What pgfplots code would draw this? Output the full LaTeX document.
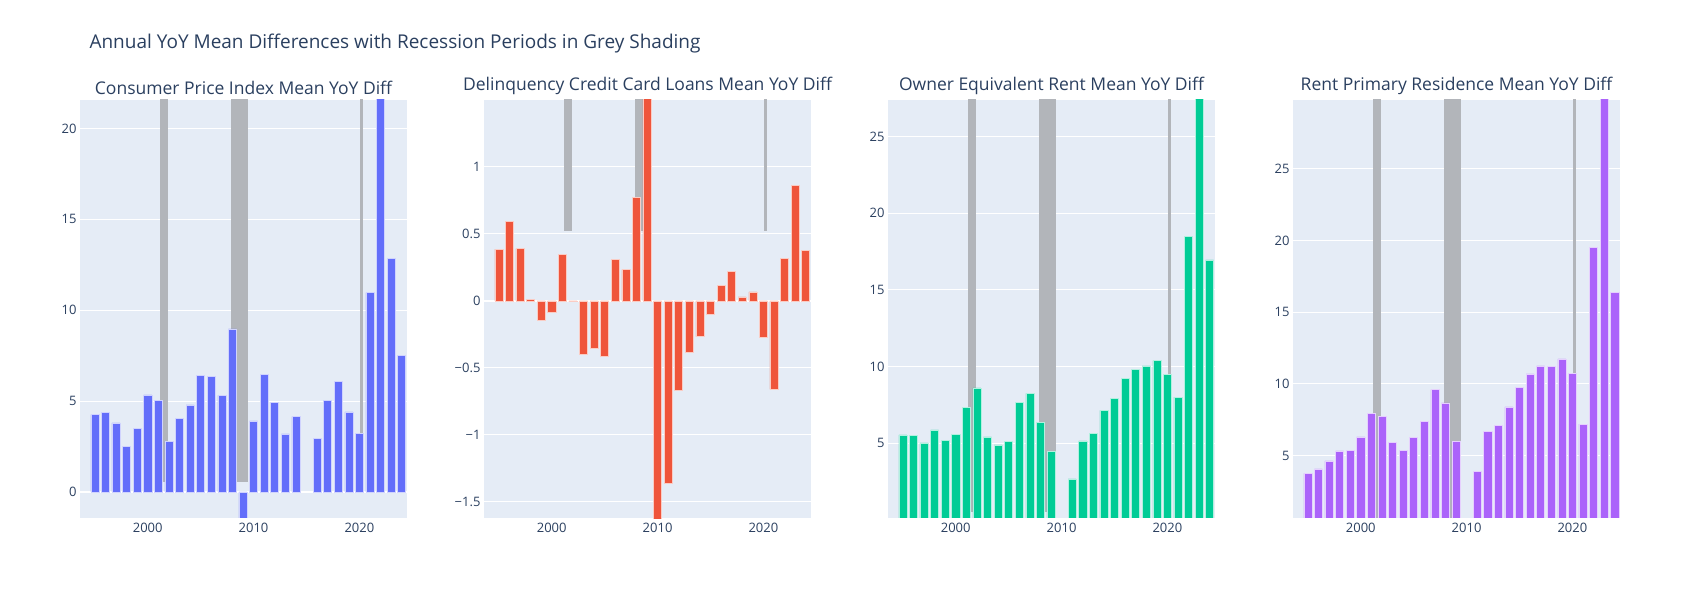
\documentclass[border=0pt]{standalone}
\usepackage{pgfplots}
\pgfplotsset{compat=1.18}
\usepackage{pgfplotstable}
\usepackage{fontspec}
\setmainfont{Open Sans}
\definecolor{txt}{HTML}{2A3F5F}
\definecolor{bg}{HTML}{E5ECF6}
\definecolor{shade}{HTML}{B2B5BA}
\definecolor{cA}{HTML}{636EFA}
\definecolor{cB}{HTML}{EF553B}
\definecolor{cC}{HTML}{00CC96}
\definecolor{cD}{HTML}{AB63FA}
\pgfplotstableread{
year cpi del oer rent
1995 4.26 0.386 5.54 3.77
1996 4.39 0.595 5.50 4.07
1997 3.80 0.39 5.02 4.63
1998 2.51 0.01 5.87 5.33
1999 3.50 -0.147 5.20 5.37
2000 5.34 -0.087 5.57 6.30
2001 5.03 0.348 7.33 7.95
2002 2.79 -0.005 8.61 7.74
2003 4.04 -0.395 5.41 5.90
2004 4.79 -0.356 4.89 5.37
2005 6.40 -0.415 5.09 6.28
2006 6.35 0.308 7.65 7.40
2007 5.32 0.234 8.24 9.60
2008 8.97 0.774 6.33 8.67
2009 -1.60 1.60 4.46 6.00
2010 3.91 -1.70 nan nan
2011 6.46 -1.363 2.67 3.88
2012 4.94 -0.667 5.15 6.70
2013 3.19 -0.38 5.65 7.12
2014 4.15 -0.266 7.13 8.40
2015 nan -0.10 7.91 9.75
2016 2.94 0.114 9.24 10.70
2017 5.03 0.219 9.80 11.25
2018 6.07 0.03 10.04 11.20
2019 4.40 0.067 10.39 11.75
2020 3.23 -0.27 9.48 10.75
2021 10.97 -0.66 8.00 7.20
2022 23.0 0.32 18.48 19.50
2023 12.86 0.86 28.5 31.0
2024 7.50 0.38 16.96 16.40
}\data
\pgfplotsset{
  panel/.style={
    scale only axis, width=327pt, height=418pt,
    anchor=north west,
    axis background/.style={fill=bg},
    axis line style={draw=none},
    major tick style={draw=none},
    xmin=1993.6, xmax=2024.5,
    xtick={2000,2010,2020},
    ymajorgrids, grid style={white, line width=1pt},
    ticklabel style={font=\fontsize{13}{15}\selectfont, text=txt},
    /pgf/number format/assume math mode=true,
    /pgf/number format/1000 sep={},
    title style={font=\fontsize{17.5}{20}\selectfont, text=txt, yshift=-4pt},
    xticklabel style={yshift=-2pt},
    clip=true,
  },
  bars/.style={ybar, bar width=0.76, draw=white!70!#1, line width=0.5pt, fill=#1, forget plot},
  sh/.style={fill=shade, draw=none, forget plot},
}
\begin{document}
\begin{tikzpicture}
\path[use as bounding box] (0pt,0pt) rectangle (1700pt,600pt);
\node[anchor=west, text=txt, font=\fontsize{19}{22}\selectfont] at (86pt,556pt) {Annual YoY Mean Differences with Recession Periods in Grey Shading};
% panel 1
\begin{axis}[panel, at={(80pt,500pt)}, ymin=-1.43, ymax=21.56, ytick={0,5,10,15,20},
  extra y ticks={0}, extra y tick labels={}, extra y tick style={grid style={white,line width=2pt}},
  title={Consumer Price Index Mean YoY Diff}]
\addplot[sh] coordinates {(2001.18,0.55) (2001.91,0.55) (2001.91,30) (2001.18,30)} -- cycle;
\addplot[sh] coordinates {(2007.9,0.55) (2009.48,0.55) (2009.48,30) (2007.9,30)} -- cycle;
\addplot[sh] coordinates {(2020.08,0.55) (2020.33,0.55) (2020.33,30) (2020.08,30)} -- cycle;
\addplot[bars=cA] table[x=year,y=cpi] {\data};
\end{axis}
% panel 2
\begin{axis}[panel, at={(484pt,500pt)}, ymin=-1.62, ymax=1.5, ytick={-1.5,-1,-0.5,0,0.5,1},
  yticklabels={−1.5,−1,−0.5,0,0.5,1},
  extra y ticks={0}, extra y tick labels={}, extra y tick style={grid style={white,line width=2pt}},
  title={Delinquency Credit Card Loans Mean YoY Diff}]
\addplot[sh] coordinates {(2001.18,0.525) (2001.91,0.525) (2001.91,3) (2001.18,3)} -- cycle;
\addplot[sh] coordinates {(2007.9,0.525) (2009.48,0.525) (2009.48,3) (2007.9,3)} -- cycle;
\addplot[sh] coordinates {(2020.08,0.525) (2020.33,0.525) (2020.33,3) (2020.08,3)} -- cycle;
\addplot[bars=cB] table[x=year,y=del] {\data};
\end{axis}
% panel 3
\begin{axis}[panel, at={(888pt,500pt)}, ymin=0.11, ymax=27.4, ytick={5,10,15,20,25},
  title={Owner Equivalent Rent Mean YoY Diff}]
\addplot[sh] coordinates {(2001.18,0.52) (2001.91,0.52) (2001.91,40) (2001.18,40)} -- cycle;
\addplot[sh] coordinates {(2007.9,0.52) (2009.48,0.52) (2009.48,40) (2007.9,40)} -- cycle;
\addplot[sh] coordinates {(2020.08,0.52) (2020.33,0.52) (2020.33,40) (2020.08,40)} -- cycle;
\addplot[bars=cC] table[x=year,y=oer] {\data};
\end{axis}
% panel 4
\begin{axis}[panel, at={(1293pt,500pt)}, ymin=0.65, ymax=29.8, ytick={5,10,15,20,25},
  title={Rent Primary Residence Mean YoY Diff}]
\addplot[sh] coordinates {(2001.18,0) (2001.91,0) (2001.91,40) (2001.18,40)} -- cycle;
\addplot[sh] coordinates {(2007.9,0) (2009.48,0) (2009.48,40) (2007.9,40)} -- cycle;
\addplot[sh] coordinates {(2020.08,0) (2020.33,0) (2020.33,40) (2020.08,40)} -- cycle;
\addplot[bars=cD] table[x=year,y=rent] {\data};
\end{axis}
\end{tikzpicture}
\end{document}
